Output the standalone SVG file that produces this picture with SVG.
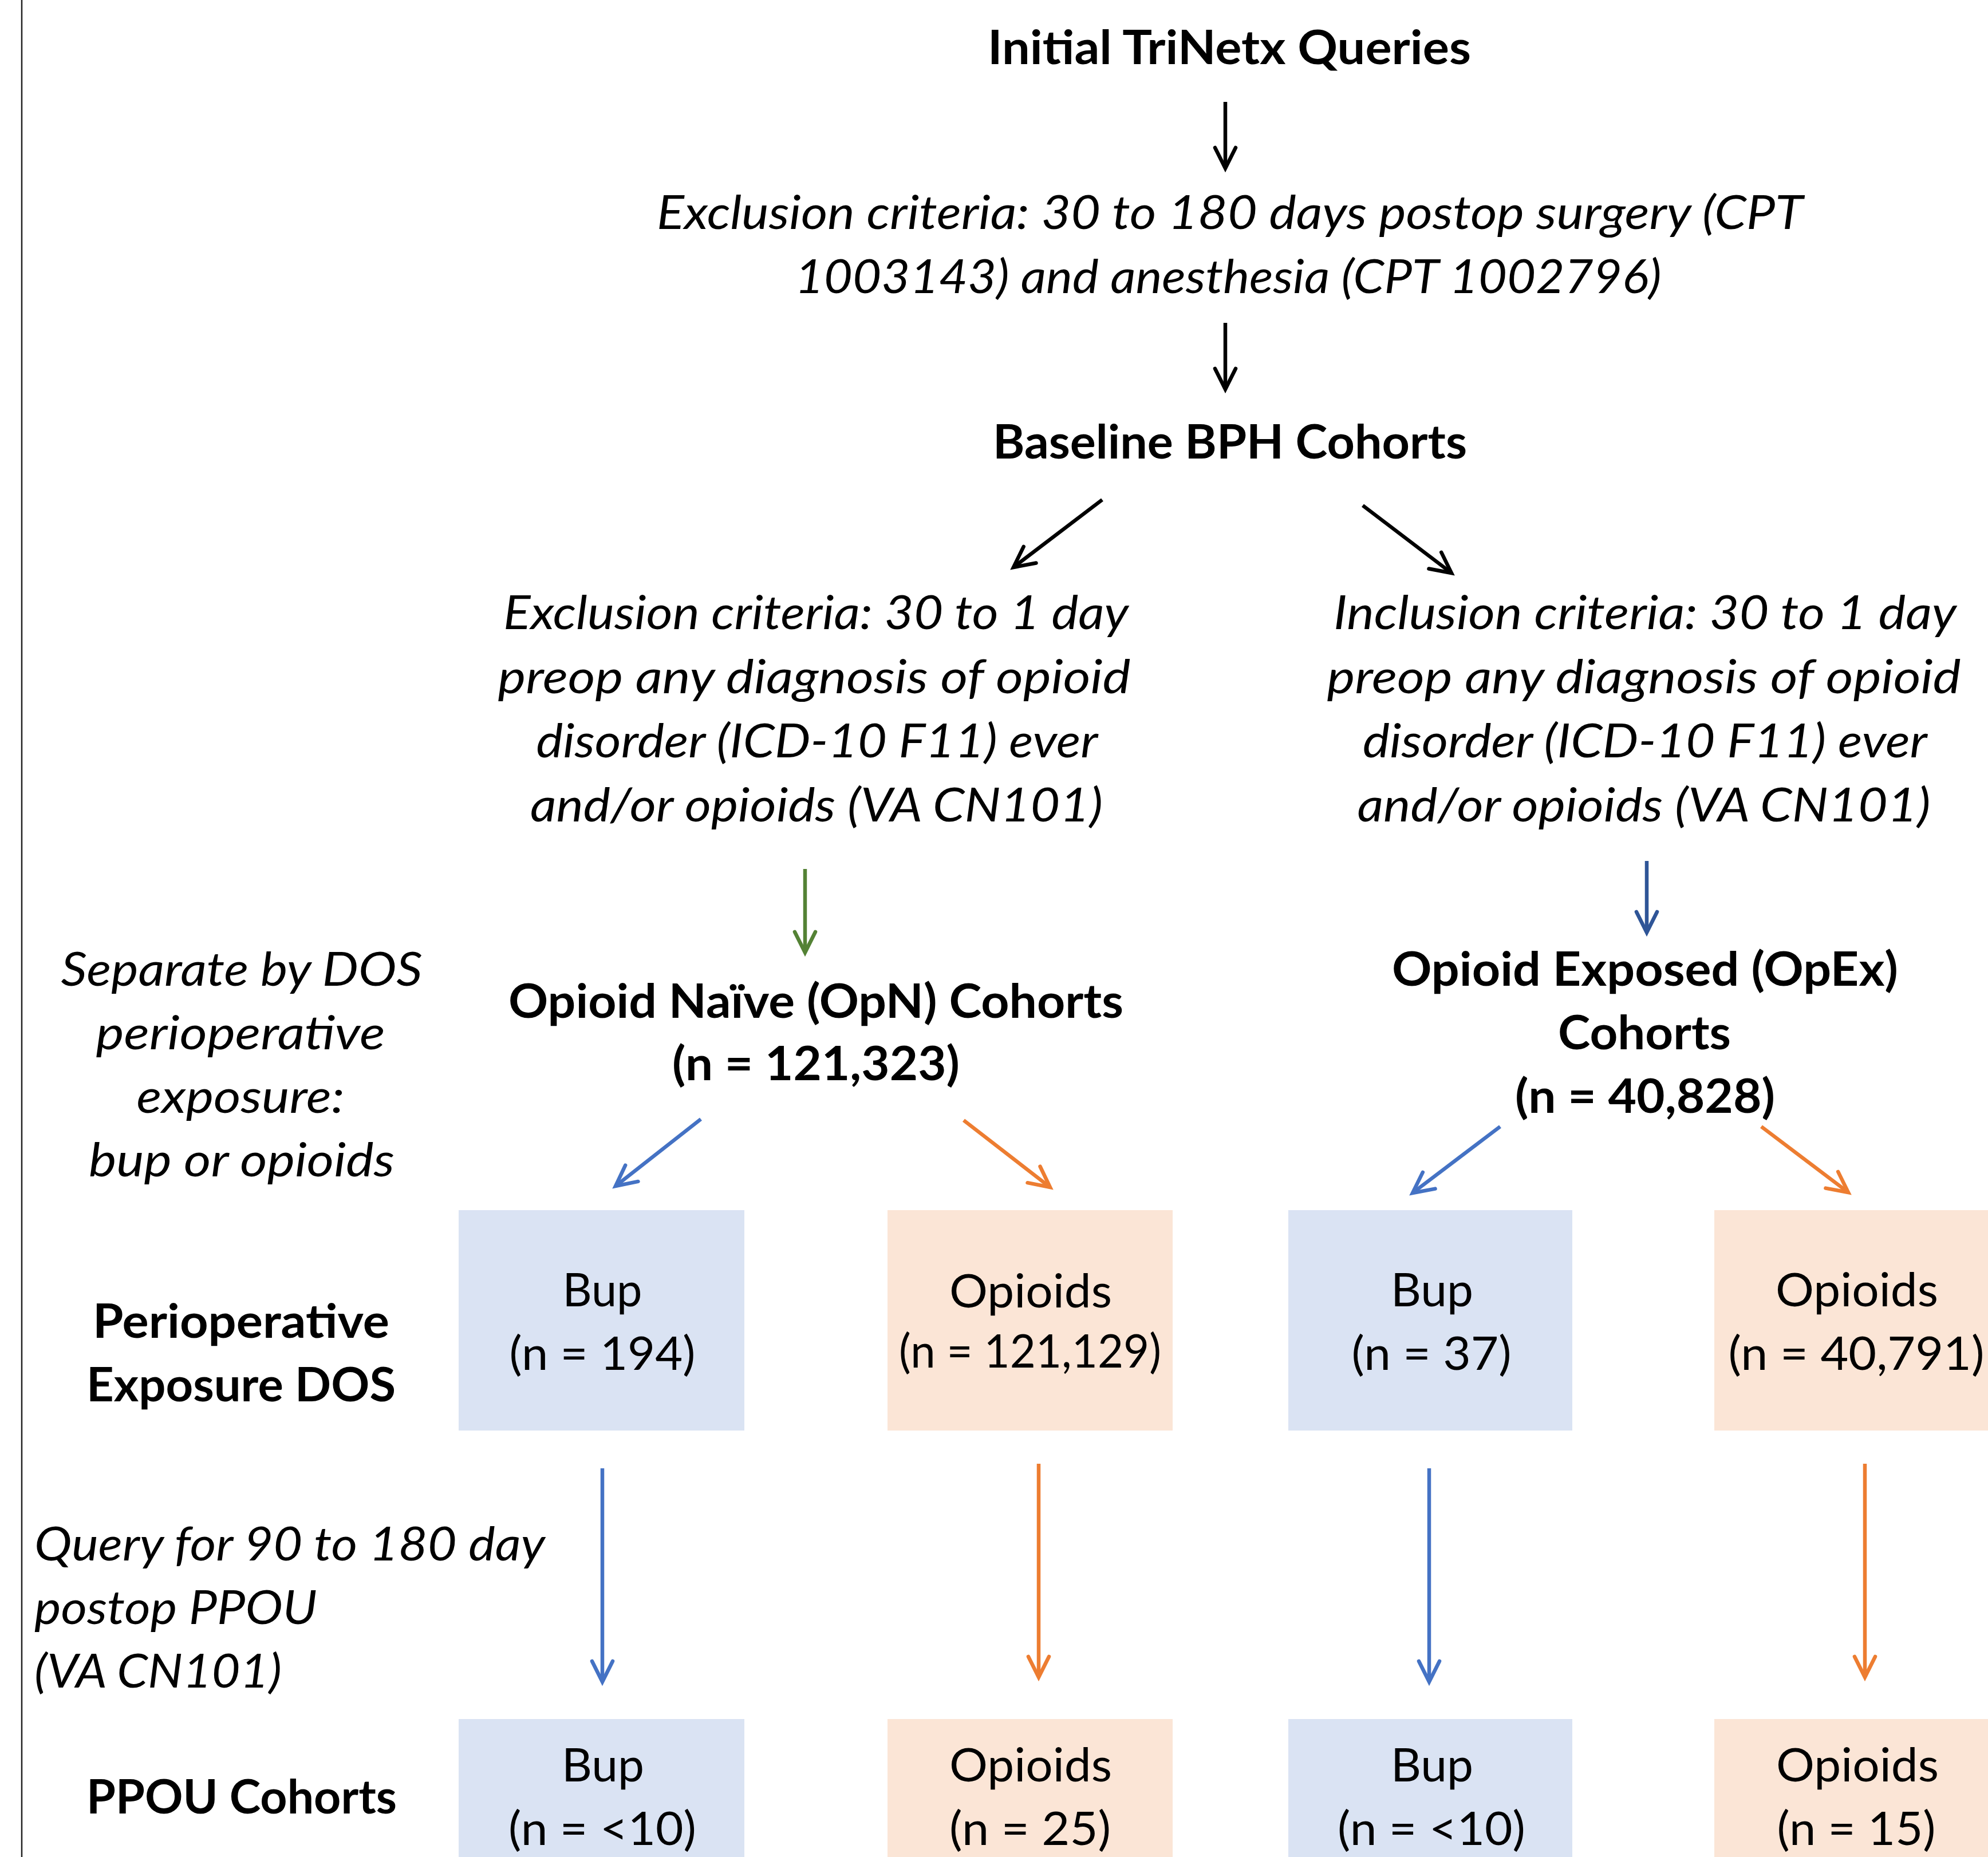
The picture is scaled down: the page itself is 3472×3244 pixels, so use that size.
<svg xmlns="http://www.w3.org/2000/svg" width="3472" height="3244" viewBox="0 0 3472 3244">
<style>
text{font-family:Lato,"Noto Sans","Liberation Sans",sans-serif;font-size:82px;fill:#000;text-anchor:middle}
.b{font-weight:700}
.i{font-style:italic}
.l{text-anchor:start}
.bx-b{fill:#DAE3F3}
.bx-o{fill:#FBE5D6}
.c{fill:none;stroke-width:6.5}
</style>
<defs>
<marker id="mk" markerUnits="userSpaceOnUse" markerWidth="56" markerHeight="40" viewBox="0 0 56 40" refX="44" refY="20" orient="auto" overflow="visible"><path d="M8,2 L44,20 L8,38" fill="none" stroke="#000" stroke-width="6.5" stroke-linecap="round"/></marker>
<marker id="mg" markerUnits="userSpaceOnUse" markerWidth="56" markerHeight="40" viewBox="0 0 56 40" refX="44" refY="20" orient="auto" overflow="visible"><path d="M8,2 L44,20 L8,38" fill="none" stroke="#548235" stroke-width="6.5" stroke-linecap="round"/></marker>
<marker id="mn" markerUnits="userSpaceOnUse" markerWidth="56" markerHeight="40" viewBox="0 0 56 40" refX="44" refY="20" orient="auto" overflow="visible"><path d="M8,2 L44,20 L8,38" fill="none" stroke="#2F5597" stroke-width="6.5" stroke-linecap="round"/></marker>
<marker id="mb" markerUnits="userSpaceOnUse" markerWidth="56" markerHeight="40" viewBox="0 0 56 40" refX="44" refY="20" orient="auto" overflow="visible"><path d="M8,2 L44,20 L8,38" fill="none" stroke="#4472C4" stroke-width="6.5" stroke-linecap="round"/></marker>
<marker id="mo" markerUnits="userSpaceOnUse" markerWidth="56" markerHeight="40" viewBox="0 0 56 40" refX="44" refY="20" orient="auto" overflow="visible"><path d="M8,2 L44,20 L8,38" fill="none" stroke="#ED7D31" stroke-width="6.5" stroke-linecap="round"/></marker>
</defs>
<rect x="0" y="0" width="3472" height="3244" fill="#fff"/>
<line x1="38" y1="0" x2="38" y2="3244" stroke="#222" stroke-width="2.5"/>

<g id="title"><text class="b" x="2147" y="112" textLength="844" lengthAdjust="spacingAndGlyphs">Initial TriNetx Queries</text></g>
<g id="exclusion-postop">
<text class="i" x="2148" y="400" textLength="2002" lengthAdjust="spacingAndGlyphs">Exclusion criteria: 30 to 180 days postop surgery (CPT</text>
<text class="i" x="2145" y="512" textLength="1513" lengthAdjust="spacingAndGlyphs">1003143) and anesthesia (CPT 1002796)</text>
</g>
<g id="baseline"><text class="b" x="2148" y="801" textLength="828" lengthAdjust="spacingAndGlyphs">Baseline BPH Cohorts</text></g>
<g id="exclusion-preop">
<text class="i" x="1425" y="1099" textLength="1092" lengthAdjust="spacingAndGlyphs">Exclusion criteria: 30 to 1 day</text>
<text class="i" x="1422" y="1211" textLength="1105" lengthAdjust="spacingAndGlyphs">preop any diagnosis of opioid</text>
<text class="i" x="1427" y="1323" textLength="981" lengthAdjust="spacingAndGlyphs">disorder (ICD-10 F11) ever</text>
<text class="i" x="1426" y="1435" textLength="1000" lengthAdjust="spacingAndGlyphs">and/or opioids (VA CN101)</text>
</g>
<g id="inclusion-preop">
<text class="i" x="2873" y="1099" textLength="1088" lengthAdjust="spacingAndGlyphs">Inclusion criteria: 30 to 1 day</text>
<text class="i" x="2871" y="1211" textLength="1107" lengthAdjust="spacingAndGlyphs">preop any diagnosis of opioid</text>
<text class="i" x="2873" y="1323" textLength="986" lengthAdjust="spacingAndGlyphs">disorder (ICD-10 F11) ever</text>
<text class="i" x="2871" y="1435" textLength="1001" lengthAdjust="spacingAndGlyphs">and/or opioids (VA CN101)</text>
</g>
<g id="opn">
<text class="b" x="1425" y="1778" textLength="1074" lengthAdjust="spacingAndGlyphs">Opioid Naïve (OpN) Cohorts</text>
<text class="b" x="1425" y="1887" textLength="502" lengthAdjust="spacingAndGlyphs">(n = 121,323)</text>
</g>
<g id="opex">
<text class="b" x="2873" y="1722" textLength="884" lengthAdjust="spacingAndGlyphs">Opioid Exposed (OpEx)</text>
<text class="b" x="2872" y="1833" textLength="302" lengthAdjust="spacingAndGlyphs">Cohorts</text>
<text class="b" x="2873" y="1944" textLength="454" lengthAdjust="spacingAndGlyphs">(n = 40,828)</text>
</g>
<g id="label-separate">
<text class="i" x="422" y="1722" textLength="631" lengthAdjust="spacingAndGlyphs">Separate by DOS</text>
<text class="i" x="420" y="1833" textLength="505" lengthAdjust="spacingAndGlyphs">perioperative</text>
<text class="i" x="420" y="1944" textLength="363" lengthAdjust="spacingAndGlyphs">exposure:</text>
<text class="i" x="422" y="2055" textLength="534" lengthAdjust="spacingAndGlyphs">bup or opioids</text>
</g>
<g id="label-periop">
<text class="b" x="421" y="2337" textLength="518" lengthAdjust="spacingAndGlyphs">Perioperative</text>
<text class="b" x="421" y="2448" textLength="540" lengthAdjust="spacingAndGlyphs">Exposure DOS</text>
</g>
<g id="label-query">
<text class="i l" x="60" y="2726" textLength="892" lengthAdjust="spacingAndGlyphs">Query for 90 to 180 day</text>
<text class="i l" x="60" y="2837" textLength="494" lengthAdjust="spacingAndGlyphs">postop PPOU</text>
<text class="i l" x="60" y="2948" textLength="432" lengthAdjust="spacingAndGlyphs">(VA CN101)</text>
</g>
<g id="label-ppou"><text class="b" x="422" y="3168" textLength="542" lengthAdjust="spacingAndGlyphs">PPOU Cohorts</text></g>

<g id="dos-opn-bup"><rect class="bx-b" x="801" y="2114" width="499" height="385"/>
<text x="1052" y="2282" textLength="139" lengthAdjust="spacingAndGlyphs">Bup</text>
<text x="1052" y="2393" textLength="325" lengthAdjust="spacingAndGlyphs">(n = 194)</text></g>
<g id="dos-opn-opioids"><rect class="bx-o" x="1550" y="2114" width="498" height="385"/>
<text x="1800" y="2284" textLength="284" lengthAdjust="spacingAndGlyphs">Opioids</text>
<text x="1799" y="2389" textLength="458" lengthAdjust="spacingAndGlyphs">(n = 121,129)</text></g>
<g id="dos-opex-bup"><rect class="bx-b" x="2250" y="2114" width="496" height="385"/>
<text x="2501" y="2282" textLength="144" lengthAdjust="spacingAndGlyphs">Bup</text>
<text x="2500" y="2393" textLength="279" lengthAdjust="spacingAndGlyphs">(n = 37)</text></g>
<g id="dos-opex-opioids"><rect class="bx-o" x="2994" y="2114" width="498" height="385"/>
<text x="3243" y="2282" textLength="284" lengthAdjust="spacingAndGlyphs">Opioids</text>
<text x="3242" y="2393" textLength="447" lengthAdjust="spacingAndGlyphs">(n = 40,791)</text></g>

<g id="ppou-opn-bup"><rect class="bx-b" x="801" y="3003" width="499" height="260"/>
<text x="1053" y="3112" textLength="144" lengthAdjust="spacingAndGlyphs">Bup</text>
<text x="1052" y="3223" textLength="328" lengthAdjust="spacingAndGlyphs">(n = &lt;10)</text></g>
<g id="ppou-opn-opioids"><rect class="bx-o" x="1550" y="3003" width="498" height="260"/>
<text x="1800" y="3112" textLength="284" lengthAdjust="spacingAndGlyphs">Opioids</text>
<text x="1799" y="3223" textLength="282" lengthAdjust="spacingAndGlyphs">(n = 25)</text></g>
<g id="ppou-opex-bup"><rect class="bx-b" x="2250" y="3003" width="496" height="260"/>
<text x="2501" y="3112" textLength="144" lengthAdjust="spacingAndGlyphs">Bup</text>
<text x="2500" y="3223" textLength="328" lengthAdjust="spacingAndGlyphs">(n = &lt;10)</text></g>
<g id="ppou-opex-opioids"><rect class="bx-o" x="2994" y="3003" width="498" height="260"/>
<text x="3244" y="3112" textLength="284" lengthAdjust="spacingAndGlyphs">Opioids</text>
<text x="3242" y="3223" textLength="277" lengthAdjust="spacingAndGlyphs">(n = 15)</text></g>

<g id="connectors">
<line class="c" stroke="#000" x1="2140" y1="178" x2="2140" y2="294" marker-end="url(#mk)"/>
<line class="c" stroke="#000" x1="2140" y1="564" x2="2140" y2="680" marker-end="url(#mk)"/>
<line class="c" stroke="#000" x1="1925" y1="873" x2="1770" y2="991" marker-end="url(#mk)"/>
<line class="c" stroke="#000" x1="2380" y1="883" x2="2535" y2="1001" marker-end="url(#mk)"/>
<line class="c" stroke="#548235" x1="1406" y1="1518" x2="1406" y2="1664" marker-end="url(#mg)"/>
<line class="c" stroke="#2F5597" x1="2876" y1="1504" x2="2876" y2="1629" marker-end="url(#mn)"/>
<line class="c" stroke="#4472C4" x1="1224" y1="1955" x2="1075" y2="2072" marker-end="url(#mb)"/>
<line class="c" stroke="#ED7D31" x1="1683" y1="1957" x2="1834" y2="2074" marker-end="url(#mo)"/>
<line class="c" stroke="#4472C4" x1="2620" y1="1968" x2="2467" y2="2084" marker-end="url(#mb)"/>
<line class="c" stroke="#ED7D31" x1="3076" y1="1968" x2="3228" y2="2083" marker-end="url(#mo)"/>
<line class="c" stroke="#4472C4" x1="1052" y1="2565" x2="1052" y2="2938" marker-end="url(#mb)"/>
<line class="c" stroke="#ED7D31" x1="1814" y1="2557" x2="1814" y2="2930" marker-end="url(#mo)"/>
<line class="c" stroke="#4472C4" x1="2496" y1="2565" x2="2496" y2="2938" marker-end="url(#mb)"/>
<line class="c" stroke="#ED7D31" x1="3257" y1="2557" x2="3257" y2="2930" marker-end="url(#mo)"/>
</g>
</svg>
